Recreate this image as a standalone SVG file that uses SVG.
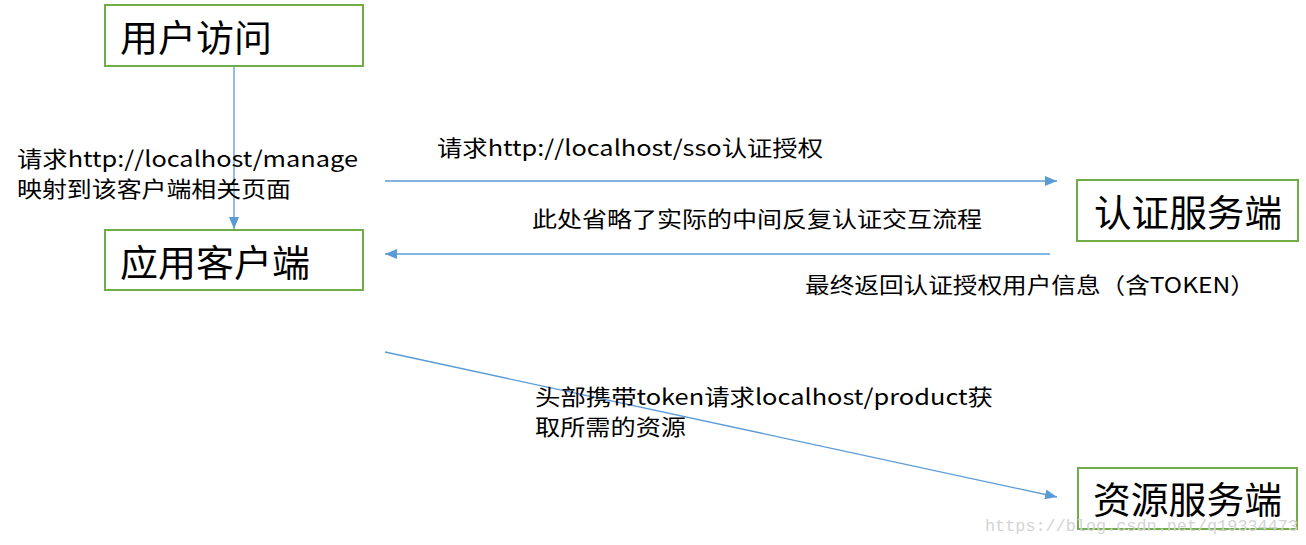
<svg xmlns="http://www.w3.org/2000/svg" width="1306" height="545" viewBox="0 0 1306 545">
<style>
.box{fill:#fff;stroke:#70ad47;stroke-width:2}
.title{font-family:"Noto Sans CJK SC","Microsoft YaHei",sans-serif;font-size:37px;fill:#000;dominant-baseline:central}
.lbl{font-family:"Noto Sans CJK SC","Microsoft YaHei",sans-serif;font-size:22px;fill:#000;dominant-baseline:central}
.conn{stroke:#5b9bd5;stroke-width:1.3;fill:none;marker-end:url(#arr)}
.wm{font-family:"Liberation Mono",monospace;font-size:16px;fill:#d4d4d4}
</style>
<defs>
<marker id="arr" viewBox="0 0 12 10" refX="12" refY="5" markerWidth="12" markerHeight="10" markerUnits="userSpaceOnUse" orient="auto">
<path d="M0,0 L12,5 L0,10 Z" fill="#5b9bd5"/>
</marker>
</defs>
<g id="connectors">
<line class="conn" x1="234" y1="66" x2="234" y2="229"/>
<line class="conn" x1="385" y1="181" x2="1057" y2="181"/>
<line class="conn" x1="1050" y1="254" x2="385" y2="254"/>
<line class="conn" x1="385" y1="352" x2="1057" y2="497"/>
</g>
<g id="node-user">
<rect class="box" x="105" y="5" width="258" height="61"/>
<text class="title" x="120" y="36" textLength="152" lengthAdjust="spacingAndGlyphs">用户访问</text>
</g>
<g id="node-client">
<rect class="box" x="105" y="230" width="258" height="60"/>
<text class="title" x="120" y="261" textLength="190" lengthAdjust="spacingAndGlyphs">应用客户端</text>
</g>
<g id="node-auth">
<rect class="box" x="1077" y="180" width="221" height="61"/>
<text class="title" x="1094" y="211" textLength="188" lengthAdjust="spacingAndGlyphs">认证服务端</text>
</g>
<g id="node-resource">
<rect class="box" x="1078" y="468" width="219" height="61"/>
<text class="title" x="1093" y="498" textLength="189" lengthAdjust="spacingAndGlyphs">资源服务端</text>
</g>
<g id="labels">
<text class="lbl" x="17" y="157" textLength="341" lengthAdjust="spacingAndGlyphs">请求http://localhost/manage</text>
<text class="lbl" x="17" y="187" textLength="274" lengthAdjust="spacingAndGlyphs">映射到该客户端相关页面</text>
<text class="lbl" x="437" y="146" textLength="386" lengthAdjust="spacingAndGlyphs">请求http://localhost/sso认证授权</text>
<text class="lbl" x="532" y="217" textLength="450" lengthAdjust="spacingAndGlyphs">此处省略了实际的中间反复认证交互流程</text>
<text class="lbl" x="805" y="283" textLength="450" lengthAdjust="spacingAndGlyphs">最终返回认证授权用户信息（含TOKEN）</text>
<text class="lbl" x="535" y="395" textLength="458" lengthAdjust="spacingAndGlyphs">头部携带token请求localhost/product获</text>
<text class="lbl" x="535" y="425" textLength="151" lengthAdjust="spacingAndGlyphs">取所需的资源</text>
</g>
<text class="wm" x="985" y="531" textLength="313" lengthAdjust="spacingAndGlyphs">https://blog.csdn.net/q19334473</text>
</svg>
